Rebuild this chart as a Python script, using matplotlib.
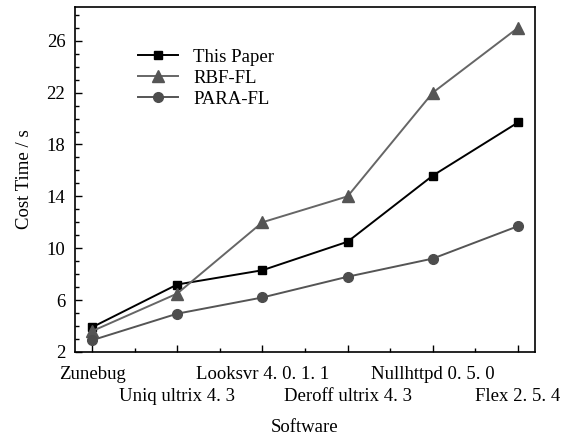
import matplotlib
matplotlib.use("Agg")
import matplotlib.pyplot as plt
from matplotlib.ticker import MultipleLocator, FixedLocator

software = ["Zunebug", "Uniq ultrix 4. 3", "Looksvr 4. 0. 1. 1",
            "Deroff ultrix 4. 3", "Nullhttpd 0. 5. 0", "Flex 2. 5. 4"]
this_paper = [3.9, 7.2, 8.3, 10.5, 15.6, 19.7]
rbf_fl = [3.6, 6.5, 12.0, 14.0, 22.0, 27.0]
para_fl = [2.9, 4.95, 6.2, 7.8, 9.2, 11.7]
y_ticks = [2, 6, 10, 14, 18, 22, 26]

plt.rcParams['font.family'] = ['Liberation Serif', 'DejaVu Serif']
plt.rcParams['font.size'] = 13.5

fig = plt.figure(figsize=(5.68, 4.41), dpi=100)
ax = fig.add_axes([0.132, 0.202, 0.81, 0.782])

x = list(range(len(software)))
ax.plot(x, this_paper, color='black', marker='s', markersize=6, linewidth=1.4, label='This Paper')
ax.plot(x, rbf_fl, color='#666666', marker='^', markersize=8, markerfacecolor='#555555',
        markeredgecolor='#555555', linewidth=1.4, label='RBF-FL')
ax.plot(x, para_fl, color='#555555', marker='o', markersize=7, markerfacecolor='#4d4d4d',
        markeredgecolor='#4d4d4d', linewidth=1.4, label='PARA-FL')

ax.set_xlim(-0.2, 5.2)
ax.set_ylim(2, 28.6)
ax.set_yticks(y_ticks)
ax.yaxis.set_minor_locator(MultipleLocator(1))
ax.set_xticks(x)
ax.set_xticklabels(software)
ax.xaxis.set_minor_locator(FixedLocator([i + 0.5 for i in range(5)]))
ax.tick_params(which='both', direction='in', width=1)
ax.tick_params(which='major', length=5)
ax.tick_params(which='minor', length=3)
ax.tick_params(axis='y', pad=7)
for i, t in enumerate(ax.xaxis.get_major_ticks()):
    t.set_pad(10 if i % 2 == 0 else 26)
for sp in ax.spines.values():
    sp.set_linewidth(1.2)

ax.set_xlabel("Software", labelpad=10)
ax.set_ylabel("Cost Time / s", labelpad=10)

ax.legend(loc='upper left', bbox_to_anchor=(0.1, 0.928), frameon=False,
          handlelength=2.15, labelspacing=0.2, handletextpad=0.8)

fig.savefig("out.png", dpi=100)
